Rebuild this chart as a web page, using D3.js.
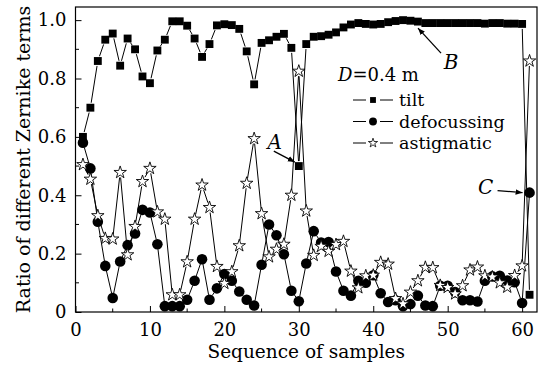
<!DOCTYPE html>
<html>
<head>
<meta charset="utf-8">
<script src="https://cdn.jsdelivr.net/npm/d3@7"></script>
<style>
  body { margin: 0; background: #fff; }
  text { font-family: "DejaVu Serif", "Liberation Serif", serif; fill: #000; }
</style>
</head>
<body>
<div id="chart"></div>
<script>
// Sizes of the picture
const width = 553;
const height = 365;
const margin = { top: 7, right: 16, bottom: 53, left: 75.5 };

// Data (samples 1..61)
const samples = d3.range(1, 62);
const tilt = [
  0.60, 0.70, 0.86, 0.933, 0.954, 0.844, 0.937, 0.90, 0.807, 0.784,
  0.896, 0.933, 0.996, 0.996, 0.981, 0.937, 0.874, 0.918, 0.982, 0.986,
  0.983, 0.97, 0.893, 0.78, 0.922, 0.931, 0.943, 0.953, 0.905, 0.50,
  0.918, 0.943, 0.945, 0.95, 0.958, 0.975, 0.985, 0.99, 0.987, 0.985,
  0.987, 0.993, 0.997, 1.0, 0.998, 0.995, 0.99, 0.99, 0.99, 0.99,
  0.99, 0.99, 0.99, 0.99, 0.988, 0.99, 0.99, 0.988, 0.988, 0.987,
  0.059
];
const defocussing = [
  0.58, 0.492, 0.309, 0.158, 0.048, 0.173, 0.229, 0.269, 0.35, 0.341,
  0.232, 0.02, 0.02, 0.02, 0.042, 0.107, 0.181, 0.042, 0.081, 0.13,
  0.107, 0.07, 0.042, 0.022, 0.162, 0.30, 0.263, 0.198, 0.073, 0.037,
  0.166, 0.277, 0.238, 0.24, 0.139, 0.073, 0.056, 0.107, 0.10, 0.126,
  0.064, 0.034, 0.04, 0.02, 0.027, 0.056, 0.022, 0.02, 0.09, 0.09,
  0.068, 0.04, 0.04, 0.036, 0.107, 0.122, 0.124, 0.108, 0.102, 0.031,
  0.409
];
const astigmatic = [
  0.505, 0.455, 0.33, 0.252, 0.25, 0.478, 0.196, 0.293, 0.447, 0.492,
  0.343, 0.318, 0.059, 0.059, 0.172, 0.318, 0.435, 0.358, 0.156, 0.098,
  0.138, 0.227, 0.441, 0.594, 0.337, 0.189, 0.215, 0.232, 0.40, 0.825,
  0.346, 0.194, 0.225, 0.208, 0.231, 0.242, 0.14, 0.083, 0.124, 0.126,
  0.17, 0.164, 0.046, 0.028, 0.068, 0.107, 0.153, 0.152, 0.091, 0.084,
  0.062, 0.09, 0.144, 0.154, 0.124, 0.12, 0.10, 0.085, 0.125, 0.158,
  0.86
];
const xTicks = [0, 10, 20, 30, 40, 50, 60];
const yTicks = [0, 0.2, 0.4, 0.6, 0.8, 1.0];

const series = [
  { name: "tilt", values: tilt, symbol: d3.symbolSquare, size: 62, fill: "#000" },
  { name: "defocussing", values: defocussing, symbol: d3.symbolCircle, size: 88, fill: "#000" },
  { name: "astigmatic", values: astigmatic, symbol: d3.symbolStar, size: 48, fill: "#fff" },
];

const svg = d3.select("#chart").append("svg")
  .attr("width", width)
  .attr("height", height);

const x = d3.scaleLinear().domain([0, 62]).range([margin.left, width - margin.right]);
const y = d3.scaleLinear().domain([0, 1.045]).range([height - margin.bottom, margin.top]);

// fleche
svg.append("defs").append("marker")
  .attr("id", "arrow")
  .attr("viewBox", "0 0 10 10")
  .attr("refX", 10).attr("refY", 5)
  .attr("markerWidth", 7).attr("markerHeight", 7)
  .attr("markerUnits", "userSpaceOnUse")
  .attr("orient", "auto")
  .append("path")
  .attr("d", "M0,1 L10,5 L0,9 Z")
  .attr("fill", "#000");

// Axes (ticks inward)
const xAxis = d3.axisBottom(x).tickValues(xTicks).tickFormat(d3.format("d")).tickSize(-6).tickPadding(11);
const yAxis = d3.axisLeft(y).tickValues(yTicks).tickFormat(d => d === 0 ? "0" : d3.format(".1f")(d)).tickSize(-6).tickPadding(9);

const gx = svg.append("g").attr("transform", `translate(0,${y(0)})`).call(xAxis);
const gy = svg.append("g").attr("transform", `translate(${x(0)},0)`).call(yAxis);
[gx, gy].forEach(g => {
  g.select(".domain").remove();
  g.selectAll("text").style("font-size", "18px").style("font-family", "DejaVu Serif");
  g.selectAll("line").attr("stroke", "#000");
});

// minor ticks
svg.append("g").selectAll("line")
  .data(d3.range(5, 62, 10))
  .join("line")
  .attr("x1", d => x(d)).attr("x2", d => x(d))
  .attr("y1", y(0)).attr("y2", y(0) - 3.5)
  .attr("stroke", "#000");
svg.append("g").selectAll("line")
  .data(d3.range(0.1, 1.01, 0.2))
  .join("line")
  .attr("x1", x(0)).attr("x2", x(0) + 3.5)
  .attr("y1", d => y(d)).attr("y2", d => y(d))
  .attr("stroke", "#000");

// cadre
svg.append("rect")
  .attr("x", x(0)).attr("y", margin.top)
  .attr("width", x(62) - x(0)).attr("height", y(0) - margin.top)
  .attr("fill", "none").attr("stroke", "#000").attr("stroke-width", 1.2);

// Series: lines with gaps near markers, then markers
const gap = 5;
series.forEach(s => {
  const pts = s.values.map((v, i) => [x(samples[i]), y(v)]);
  const segs = d3.pairs(pts).map(([a, b]) => {
    const dx = b[0] - a[0], dy = b[1] - a[1];
    const len = Math.hypot(dx, dy);
    if (len <= 2 * gap) return null;
    const ux = dx / len, uy = dy / len;
    return [a[0] + ux * gap, a[1] + uy * gap, b[0] - ux * gap, b[1] - uy * gap];
  }).filter(Boolean);
  const g = svg.append("g");
  g.selectAll("line").data(segs).join("line")
    .attr("x1", d => d[0]).attr("y1", d => d[1])
    .attr("x2", d => d[2]).attr("y2", d => d[3])
    .attr("stroke", "#000").attr("stroke-width", 1);
  g.selectAll("path").data(pts).join("path")
    .attr("transform", d => `translate(${d[0]},${d[1]})`)
    .attr("d", d3.symbol(s.symbol, s.size))
    .attr("fill", s.fill)
    .attr("stroke", "#000")
    .attr("stroke-width", s.fill === "#fff" ? 0.9 : 0);
});

// Legend
const legX = 353;
svg.append("text")
  .attr("x", 338).attr("y", 81)
  .style("font-size", "18px")
  .call(t => {
    t.append("tspan").style("font-style", "italic").text("D");
    t.append("tspan").text("=0.4 m");
  });
series.forEach((s, i) => {
  const cy = 100 + i * 21.5;
  const g = svg.append("g");
  g.append("line").attr("x1", legX).attr("x2", legX + 13).attr("y1", cy).attr("y2", cy).attr("stroke", "#000");
  g.append("line").attr("x1", legX + 27).attr("x2", legX + 40).attr("y1", cy).attr("y2", cy).attr("stroke", "#000");
  g.append("path")
    .attr("transform", `translate(${legX + 20},${cy})`)
    .attr("d", d3.symbol(s.symbol, s.size * 0.55))
    .attr("fill", s.fill).attr("stroke", "#000")
    .attr("stroke-width", s.fill === "#fff" ? 0.8 : 0);
  g.append("text")
    .attr("x", legX + 46).attr("y", cy + 6)
    .style("font-size", "17.5px")
    .text(s.name);
});

// Annotations A, B, C
const notes = [
  { label: "A", s: 30, v: tilt[29], tx: -24, ty: -24, ax: [-25, -15], tip: [-4, -4] },
  { label: "B", s: 44, v: tilt[43], tx: 48, ty: 42, ax: [38, 33], tip: [15, 8] },
  { label: "C", s: 61, v: defocussing[60], tx: -44, ty: -6, ax: [-32, -2], tip: [-7, 0] },
];
notes.forEach(n => {
  const px = x(n.s), py = y(n.v);
  svg.append("line")
    .attr("x1", px + n.ax[0]).attr("y1", py + n.ax[1])
    .attr("x2", px + n.tip[0]).attr("y2", py + n.tip[1])
    .attr("stroke", "#000").attr("stroke-width", 1.3)
    .attr("marker-end", "url(#arrow)");
  svg.append("text")
    .attr("x", px + n.tx).attr("y", py + n.ty)
    .attr("text-anchor", "middle")
    .attr("dy", "0.35em")
    .style("font-size", "20px").style("font-style", "italic")
    .text(n.label);
});

// Axis titles
svg.append("text")
  .attr("x", (x(0) + x(62)) / 2).attr("y", 358)
  .attr("text-anchor", "middle")
  .style("font-size", "18.5px")
  .text("Sequence of samples");
svg.append("text")
  .attr("transform", `translate(30,${(y(0) + margin.top) / 2}) rotate(-90)`)
  .attr("text-anchor", "middle")
  .style("font-size", "19px")
  .text("Ratio of different Zernike terms");
</script>
</body>
</html>
